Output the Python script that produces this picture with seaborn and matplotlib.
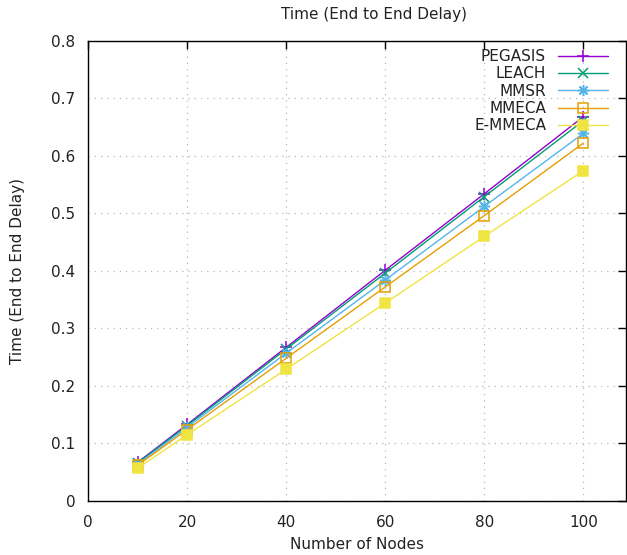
import matplotlib
matplotlib.use("Agg")
import matplotlib.pyplot as plt
import seaborn as sns

# Number of nodes and end-to-end delay per protocol
nodes = [10, 20, 40, 60, 80, 100]
pegasis = [0.067, 0.133, 0.267, 0.401, 0.534, 0.668]
leach = [0.066, 0.131, 0.264, 0.396, 0.529, 0.661]
mmsr = [0.064, 0.128, 0.257, 0.384, 0.512, 0.639]
mmeca = [0.062, 0.124, 0.248, 0.372, 0.496, 0.622]
e_mmeca = [0.057, 0.115, 0.229, 0.344, 0.460, 0.574]

series_names = ["PEGASIS", "LEACH", "MMSR", "MMECA", "E-MMECA"]
series_values = [pegasis, leach, mmsr, mmeca, e_mmeca]
colors = ["#9400d3", "#009e73", "#56b4e9", "#e69f00", "#f0e442"]
markers = ["+", "x", (8, 2, 0), "s", "s"]
facecolors = [None, None, None, "none", "#f0e442"]
msizes = [9, 7, 8, 6.5, 6.5]

x_ticks = [0, 20, 40, 60, 80, 100]
y_ticks = [0, 0.1, 0.2, 0.3, 0.4, 0.5, 0.6, 0.7, 0.8]

sns.set_style("white")
plt.rcParams["font.family"] = ["DejaVu Sans"]
text_color = "#222222"
fs = 11

fig = plt.figure(figsize=(6.27, 5.55), dpi=100)
ax = fig.add_axes([88 / 627, 1 - 501 / 555, (626 - 88) / 627, (501 - 40.7) / 555])

for name, vals, c, m, fc, ms in zip(series_names, series_values, colors, markers, facecolors, msizes):
    kws = dict(marker=m, markersize=ms, markeredgecolor=c, markeredgewidth=1.1)
    if fc is not None:
        kws["markerfacecolor"] = fc
    sns.lineplot(x=nodes, y=vals, color=c, linewidth=1.0, label=name, ax=ax, **kws)

ax.set_xlim(0, 108.6)
ax.set_ylim(0, 0.8)
ax.set_xticks(x_ticks)
ax.set_yticks(y_ticks)
ax.set_xticklabels([str(v) for v in x_ticks])
ax.set_yticklabels(["0"] + [f"{v:.1f}" for v in y_ticks[1:]])

ax.grid(True, color="#b8b8b8", linestyle=(0, (1, 4)), linewidth=0.9)
ax.tick_params(axis="both", direction="in", length=6, width=1, colors="black",
               labelcolor=text_color, labelsize=fs, top=True, right=True)
ax.tick_params(axis="y", pad=9)
ax.tick_params(axis="x", pad=10)
for sp in ax.spines.values():
    sp.set_visible(True)
    sp.set_color("black")
    sp.set_linewidth(1.0)

ax.set_xlabel("Number of Nodes", fontsize=fs, color=text_color, labelpad=5)
ax.set_ylabel("Time (End to End Delay)", fontsize=fs, color=text_color, labelpad=19)
fig.text(374 / 627, 1 - 15 / 555, "Time (End to End Delay)",
         ha="center", va="center", fontsize=fs, color=text_color)

leg = ax.legend(loc="upper right", bbox_to_anchor=(608 / 627, 1 - 49 / 555),
                bbox_transform=fig.transFigure, frameon=False, markerfirst=False,
                fontsize=fs, handlelength=3.3, handletextpad=0.75,
                labelspacing=0.15, borderpad=0, borderaxespad=0)
for t in leg.get_texts():
    t.set_color(text_color)

fig.savefig("out.png", dpi=100)
